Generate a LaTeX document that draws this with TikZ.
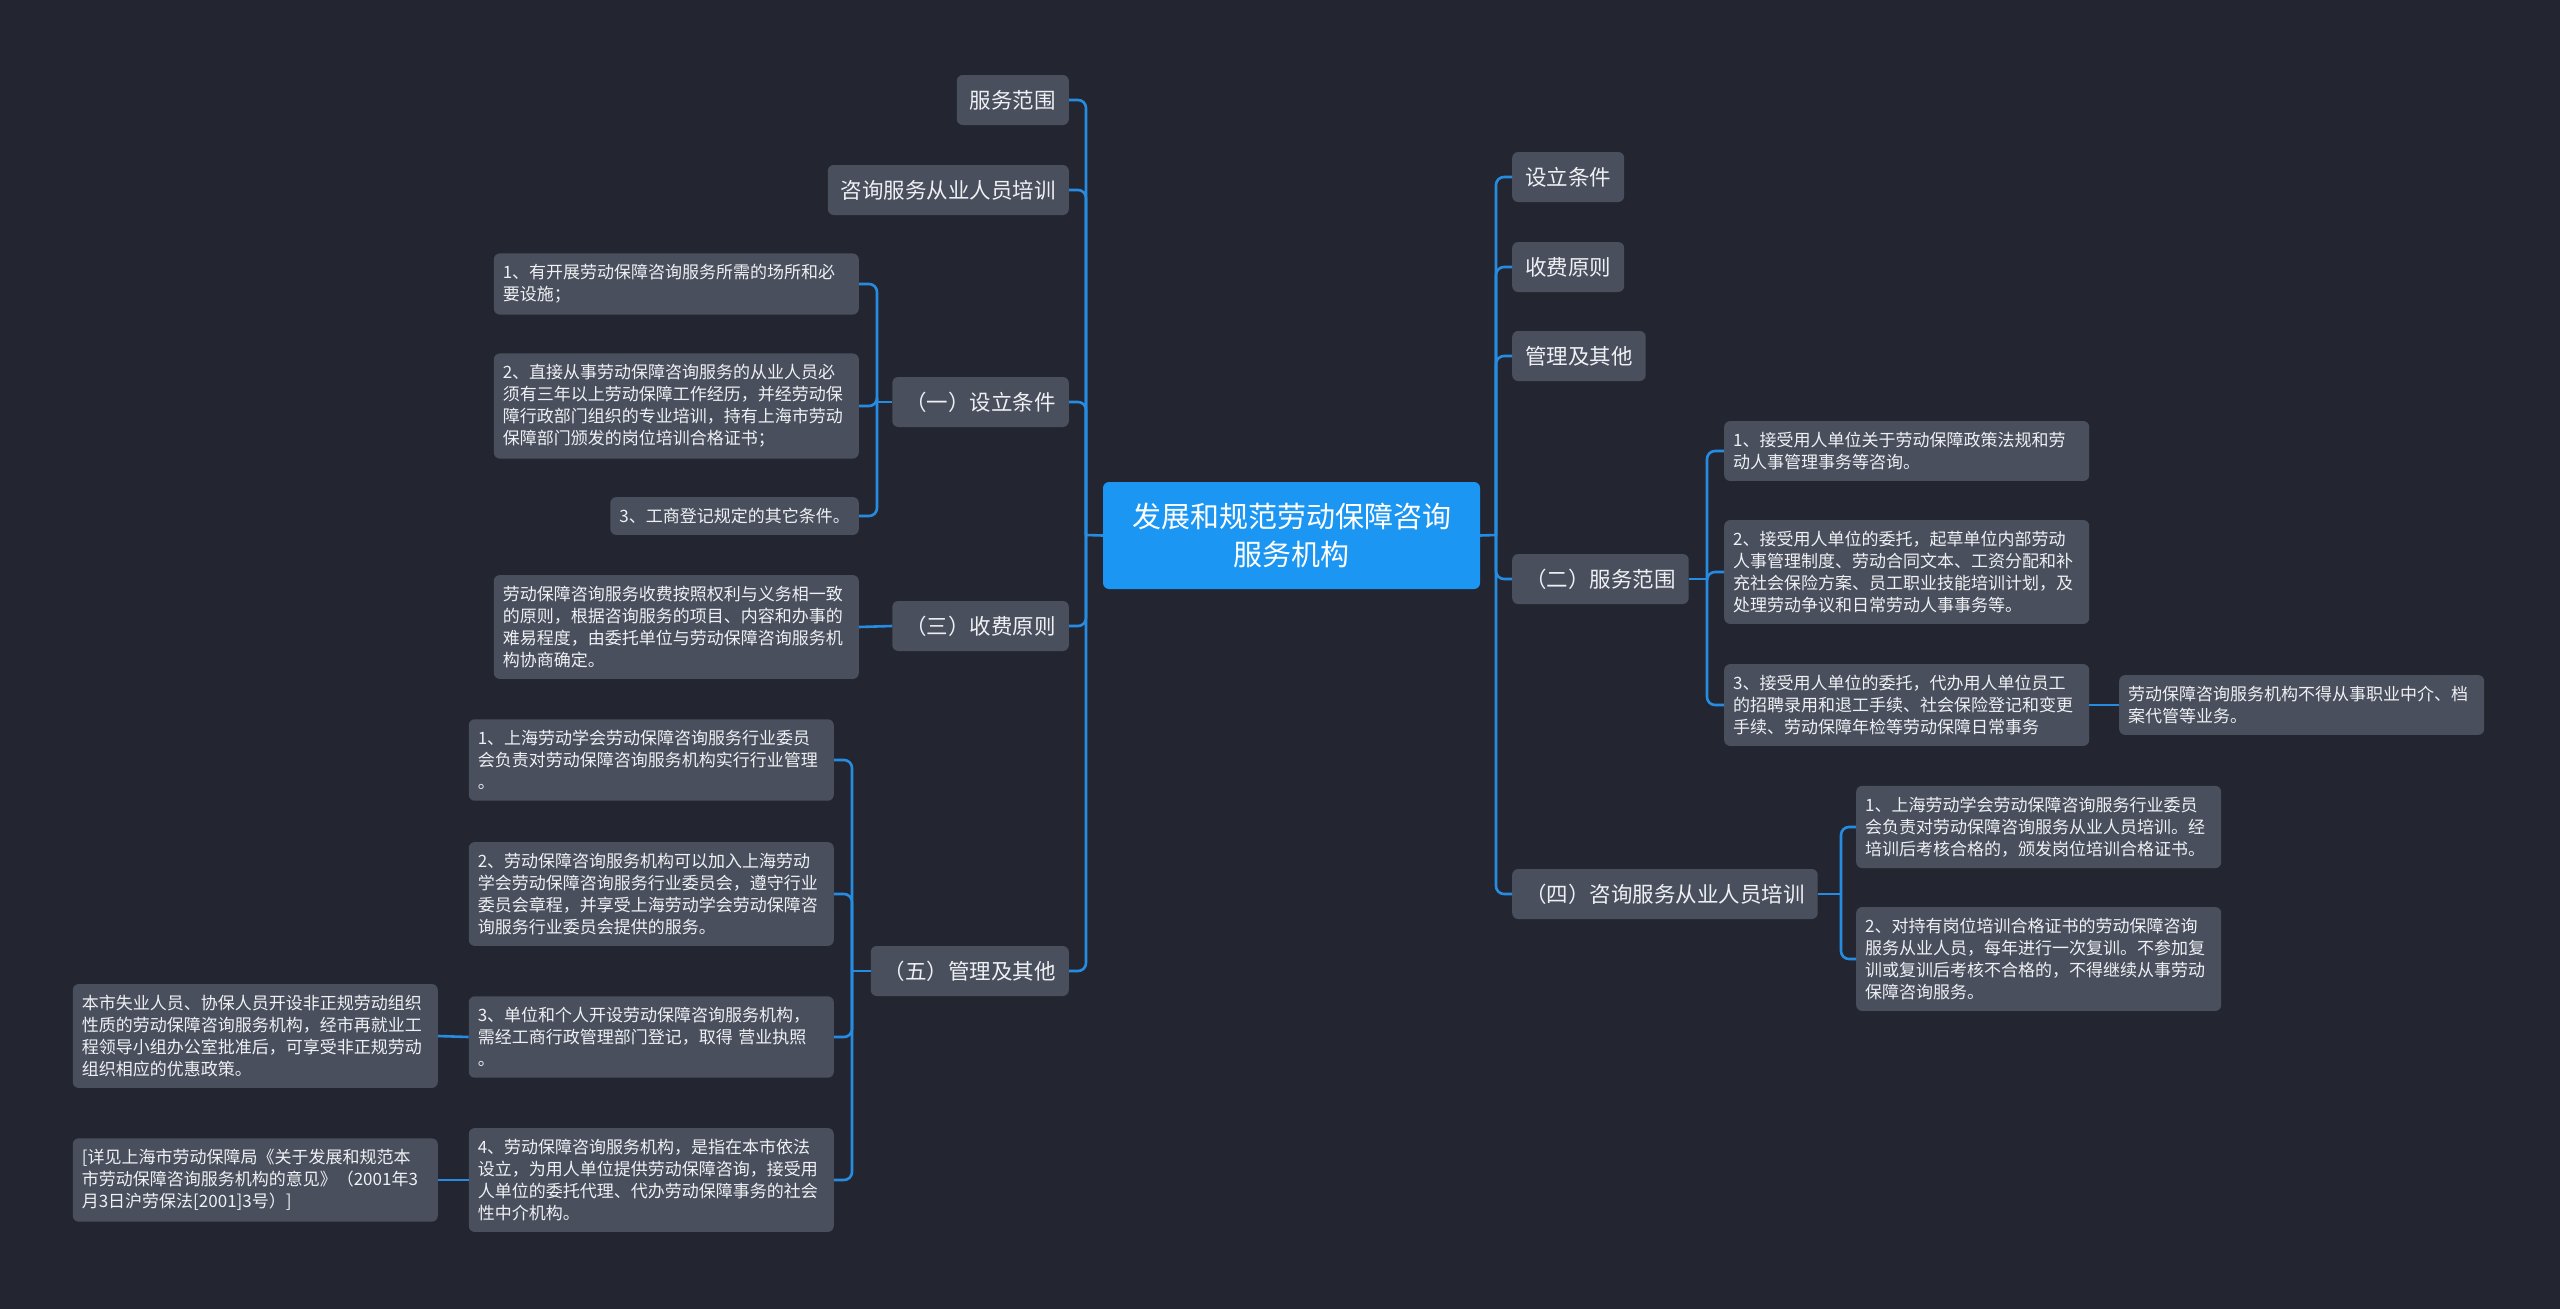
\documentclass[tikz,border=0pt]{standalone}
\usepackage{fontspec}
\setmainfont{Noto Sans CJK SC}
\definecolor{bg}{RGB}{35,38,49}
\definecolor{boxgray}{RGB}{74,79,93}
\definecolor{rootblue}{RGB}{27,150,243}
\definecolor{linkblue}{RGB}{38,140,226}
\definecolor{txt}{RGB}{238,240,243}

\begin{document}
\begin{tikzpicture}[x=1pt, y=-1pt,
    root/.style={fill=rootblue, rounded corners=6pt, text=white, align=center, minimum width=377pt, minimum height=107pt, font=\fontsize{29}{38}\selectfont},
    topic/.style={fill=boxgray, rounded corners=6pt, text=txt, inner xsep=13pt, minimum height=50pt, font=\fontsize{21.5}{26}\selectfont},
    leaf/.style={fill=boxgray, rounded corners=6pt, text=txt, align=left, inner xsep=9pt, inner ysep=11pt, font=\fontsize{17}{22}\selectfont},
    wide/.style={leaf, text width=347pt},
    conn/.style={draw=linkblue, line width=2.6pt, rounded corners=8pt}]
    \fill[bg] (0,0) rectangle (2560,1309);
    \useasboundingbox (0,0) rectangle (2560,1309);

    \node[root] (root) at (1291.5,535.5) {发展和规范劳动保障咨询\\服务机构};

    % left side
    \node[topic, anchor=east] (lfw) at (1069,100) {服务范围};
    \node[topic, anchor=east] (lpx) at (1069,190) {咨询服务从业人员培训};
    \node[topic, anchor=east] (lsl) at (1069,402) {（一）设立条件};
    \node[topic, anchor=east] (lsf) at (1069,626) {（三）收费原则};
    \node[topic, anchor=east] (lgl) at (1069,971) {（五）管理及其他};

    \node[wide, anchor=east] (sl1) at (859,284) {1、有开展劳动保障咨询服务所需的场所和必\\要设施；};
    \node[wide, anchor=east] (sl2) at (859,406) {2、直接从事劳动保障咨询服务的从业人员必\\须有三年以上劳动保障工作经历，并经劳动保\\障行政部门组织的专业培训，持有上海市劳动\\保障部门颁发的岗位培训合格证书；};
    \node[leaf, anchor=east] (sl3) at (859,516) {3、工商登记规定的其它条件。};

    \node[wide, anchor=east] (sf1) at (859,627) {劳动保障咨询服务收费按照权利与义务相一致\\的原则，根据咨询服务的项目、内容和办事的\\难易程度，由委托单位与劳动保障咨询服务机\\构协商确定。};

    \node[wide, anchor=east] (gl1) at (834,760) {1、上海劳动学会劳动保障咨询服务行业委员\\会负责对劳动保障咨询服务机构实行行业管理\\。};
    \node[wide, anchor=east] (gl2) at (834,894) {2、劳动保障咨询服务机构可以加入上海劳动\\学会劳动保障咨询服务行业委员会，遵守行业\\委员会章程，并享受上海劳动学会劳动保障咨\\询服务行业委员会提供的服务。};
    \node[wide, anchor=east] (gl3) at (834,1037) {3、单位和个人开设劳动保障咨询服务机构，\\需经工商行政管理部门登记，取得 营业执照\\。};
    \node[wide, anchor=east] (gl4) at (834,1180) {4、劳动保障咨询服务机构，是指在本市依法\\设立，为用人单位提供劳动保障咨询，接受用\\人单位的委托代理、代办劳动保障事务的社会\\性中介机构。};

    \node[wide, anchor=east] (gl3a) at (438,1036) {本市失业人员、协保人员开设非正规劳动组织\\性质的劳动保障咨询服务机构，经市再就业工\\程领导小组办公室批准后，可享受非正规劳动\\组织相应的优惠政策。};
    \node[wide, anchor=east] (gl4a) at (438,1180) {[详见上海市劳动保障局《关于发展和规范本\\市劳动保障咨询服务机构的意见》（2001年3\\月3日沪劳保法[2001]3号）]};

    % right side
    \node[topic, anchor=west] (rsl) at (1512,177) {设立条件};
    \node[topic, anchor=west] (rsf) at (1512,267) {收费原则};
    \node[topic, anchor=west] (rgl) at (1512,356) {管理及其他};
    \node[topic, anchor=west] (rfw) at (1512,579) {（二）服务范围};
    \node[topic, anchor=west] (rpx) at (1512,894) {（四）咨询服务从业人员培训};

    \node[wide, anchor=west] (fw1) at (1724,451) {1、接受用人单位关于劳动保障政策法规和劳\\动人事管理事务等咨询。};
    \node[wide, anchor=west] (fw2) at (1724,572) {2、接受用人单位的委托，起草单位内部劳动\\人事管理制度、劳动合同文本、工资分配和补\\充社会保险方案、员工职业技能培训计划，及\\处理劳动争议和日常劳动人事事务等。};
    \node[wide, anchor=west] (fw3) at (1724,705) {3、接受用人单位的委托，代办用人单位员工\\的招聘录用和退工手续、社会保险登记和变更\\手续、劳动保障年检等劳动保障日常事务};
    \node[wide, anchor=west] (fw3a) at (2119,705) {劳动保障咨询服务机构不得从事职业中介、档\\案代管等业务。};

    \node[wide, anchor=west] (px1) at (1856,827) {1、上海劳动学会劳动保障咨询服务行业委员\\会负责对劳动保障咨询服务从业人员培训。经\\培训后考核合格的，颁发岗位培训合格证书。};
    \node[wide, anchor=west] (px2) at (1856,959) {2、对持有岗位培训合格证书的劳动保障咨询\\服务从业人员，每年进行一次复训。不参加复\\训或复训后考核不合格的，不得继续从事劳动\\保障咨询服务。};

    % junctions
    \coordinate (jL) at (1086,535);
    \coordinate (jR) at (1496,535);
    \coordinate (jsl) at (877,402);
    \coordinate (jgl) at (852,971);
    \coordinate (jfw) at (1707,579);
    \coordinate (jpx) at (1841,894);

    % connectors
    \draw[conn] (root.west) -- (jL);
    \foreach \n in {lfw,lpx,lsl,lsf,lgl}
        \draw[conn] (jL) |- (\n.east);
    \draw[conn] (root.east) -- (jR);
    \foreach \n in {rsl,rsf,rgl,rfw,rpx}
        \draw[conn] (jR) |- (\n.west);

    \draw[conn] (lsl.west) -- (jsl);
    \foreach \n in {sl1,sl2,sl3}
        \draw[conn] (jsl) |- (\n.east);
    \draw[conn] (lsf.west) -- (sf1.east);
    \draw[conn] (lgl.west) -- (jgl);
    \foreach \n in {gl1,gl2,gl3,gl4}
        \draw[conn] (jgl) |- (\n.east);
    \draw[conn] (gl3.west) -- (gl3a.east);
    \draw[conn] (gl4.west) -- (gl4a.east);

    \draw[conn] (rfw.east) -- (jfw);
    \foreach \n in {fw1,fw2,fw3}
        \draw[conn] (jfw) |- (\n.west);
    \draw[conn] (fw3.east) -- (fw3a.west);
    \draw[conn] (rpx.east) -- (jpx);
    \foreach \n in {px1,px2}
        \draw[conn] (jpx) |- (\n.west);
\end{tikzpicture}
\end{document}
